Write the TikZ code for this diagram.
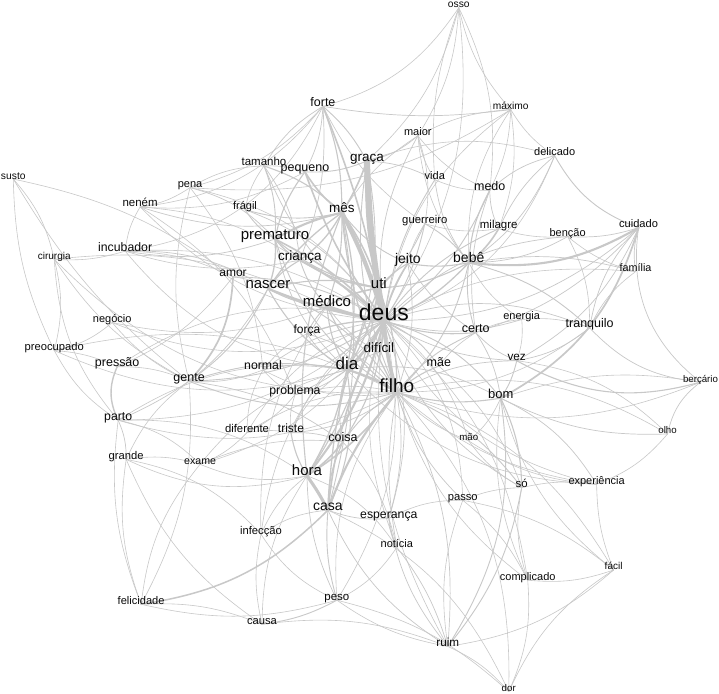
\documentclass[tikz,border=0pt]{standalone}
\usepackage{fontspec}
\setmainfont{Liberation Sans}
\definecolor{edgec}{RGB}{200,200,200}
\definecolor{txt}{RGB}{10,10,10}
\pgfdeclarelayer{back}
\pgfdeclarelayer{edges}
\pgfsetlayers{back,edges,main}
\begin{document}
\begin{tikzpicture}[x=1pt,y=-1pt,
  wn/.style={font=\fontsize{#1}{#1}\selectfont,text=txt,inner sep=1pt},
  wn/.default=11,
  lnk/.style={draw=edgec,line width={#1+0.1pt},line cap=round}]
\begin{pgfonlayer}{back}
\useasboundingbox[fill=white] (0,0) rectangle (719,694);
\end{pgfonlayer}
% ---------------- nodes -------------
\path
 (384,313) node[wn=23] (deus) {deus}
 (397,386) node[wn=19] (filho) {filho}
 (347,364) node[wn=17] (dia) {dia}
 (307,471) node[wn=15] (hora) {hora}
 (328,507) node[wn=14] (casa) {casa}
 (342,208) node[wn=13.5] (mes) {mês}
 (367,159) node[wn=13.5] (graca) {graça}
 (379,283) node[wn=15] (uti) {uti}
 (327,301) node[wn=15] (medico) {médico}
 (275,236) node[wn=15] (prematuro) {prematuro}
 (268,285) node[wn=15] (nascer) {nascer}
 (300,257) node[wn=13.5] (crianca) {criança}
 (408,260) node[wn=14] (jeito) {jeito}
 (469,258) node[wn=14] (bebe) {bebê}
 (379,348) node[wn=13.5] (dificil) {difícil}
 (307,331) node[wn=12] (forca) {força}
 (323,102) node[wn=12.5] (forte) {forte}
 (305,170) node[wn=12.5] (pequeno) {pequeno}
 (264,162) node[wn=11.5] (tamanho) {tamanho}
 (245,207) node[wn=11] (fragil) {frágil}
 (190,186) node[wn=11] (pena) {pena}
 (140,203) node[wn=11.5] (nenem) {neném}
 (13,176) node[wn=10.3] (susto) {susto}
 (125,247) node[wn=12.3] (incubador) {incubador}
 (54,257) node[wn=10] (cirurgia) {cirurgia}
 (233,274) node[wn=12] (amor) {amor}
 (112,320) node[wn=11] (negocio) {negócio}
 (54,348) node[wn=11.2] (preocupado) {preocupado}
 (117,364) node[wn=12.5] (pressao) {pressão}
 (189,379) node[wn=12.5] (gente) {gente}
 (263,366) node[wn=12.3] (normal) {normal}
 (295,392) node[wn=12.3] (problema) {problema}
 (118,418) node[wn=12.3] (parto) {parto}
 (247,429) node[wn=11.3] (diferente) {diferente}
 (291,429) node[wn=12] (triste) {triste}
 (343,438) node[wn=12.5] (coisa) {coisa}
 (126,457) node[wn=11.2] (grande) {grande}
 (200,462) node[wn=10.6] (exame) {exame}
 (261,532) node[wn=11.2] (infeccao) {infecção}
 (141,601) node[wn=11.1] (felicidade) {felicidade}
 (262,622) node[wn=11.2] (causa) {causa}
 (337,599) node[wn=11.5] (peso) {peso}
 (389,517) node[wn=12.3] (esperanca) {esperança}
 (397,544) node[wn=11] (noticia) {notícia}
 (463,499) node[wn=11.2] (passo) {passo}
 (522,484) node[wn=11.4] (so) {só}
 (597,482) node[wn=11] (experiencia) {experiência}
 (614,567) node[wn=10] (facil) {fácil}
 (528,578) node[wn=11] (complicado) {complicado}
 (448,643) node[wn=11.7] (ruim) {ruim}
 (509,689) node[wn=9.7] (dor) {dor}
 (469,438) node[wn=9.7] (mao) {mão}
 (439,362) node[wn=12.5] (mae) {mãe}
 (476,329) node[wn=12.5] (certo) {certo}
 (522,317) node[wn=11] (energia) {energia}
 (517,358) node[wn=11.8] (vez) {vez}
 (501,394) node[wn=13] (bom) {bom}
 (590,325) node[wn=12.5] (tranquilo) {tranquilo}
 (636,268) node[wn=10.8] (familia) {família}
 (701,380) node[wn=9.7] (bercario) {berçário}
 (668,431) node[wn=9.7] (olho) {olho}
 (639,224) node[wn=11.1] (cuidado) {cuidado}
 (568,234) node[wn=11] (bencao) {benção}
 (499,226) node[wn=11.5] (milagre) {milagre}
 (490,186) node[wn=12.5] (medo) {medo}
 (435,176) node[wn=11] (vida) {vida}
 (425,221) node[wn=11.3] (guerreiro) {guerreiro}
 (418,132) node[wn=11] (maior) {maior}
 (511,106) node[wn=10.2] (maximo) {máximo}
 (555,152) node[wn=11] (delicado) {delicado}
 (459,5) node[wn=10.3] (osso) {osso};
% ---------------- connectors -------------
\begin{pgfonlayer}{edges}
\foreach \a/\b/\bd/\w in {
 deus/graca/4/6, deus/mes/-6/4, deus/uti/0/3.5, deus/medico/5/3, deus/filho/-6/3.5,
 deus/dia/8/2.5, deus/crianca/-8/2, deus/nascer/6/2, deus/prematuro/-10/1.5,
 deus/pequeno/8/1.5, deus/forte/-6/1.5, deus/jeito/10/1.5, deus/bebe/-12/1.2,
 deus/dificil/10/1.5, deus/forca/-10/1.2, deus/hora/12/2, deus/casa/-10/1.5,
 deus/coisa/14/1, deus/certo/-12/1, deus/mae/15/0.8, deus/medo/-15/0.8,
 deus/vida/12/0.8, deus/guerreiro/-10/0.8, deus/maior/18/0.6, deus/milagre/14/0.8,
 deus/amor/-15/0.8, deus/tamanho/15/0.6, deus/fragil/-18/0.6, deus/gente/15/0.8,
 deus/normal/-14/0.6, deus/problema/16/0.6, deus/triste/-16/0.6, deus/bom/18/0.8,
 deus/vez/-14/0.6, deus/tranquilo/20/0.6, deus/energia/-16/0.6, deus/esperanca/18/0.6,
 deus/so/-20/0.6, deus/passo/22/0.5, deus/noticia/-18/0.5, deus/bencao/20/0.6,
 deus/cuidado/-20/0.6, deus/familia/16/0.5, deus/pena/-22/0.5, deus/nenem/20/0.5,
 deus/incubador/-18/0.5, deus/negocio/22/0.5, deus/delicado/-24/0.5, deus/maximo/22/0.5,
 deus/osso/-20/0.5, deus/exame/22/0.5, deus/diferente/-20/0.5, deus/mao/18/0.5,
 deus/experiencia/-24/0.5, deus/complicado/20/0.5, deus/ruim/-18/0.5, deus/peso/22/0.5,
 deus/infeccao/-22/0.5, deus/parto/20/0.5, deus/pressao/-24/0.5,
 filho/dia/-8/2, filho/hora/10/1.5, filho/casa/-10/2, filho/mes/12/1.2,
 filho/uti/-10/1.2, filho/medico/14/1, filho/bom/-12/1, filho/mae/10/1,
 filho/coisa/-12/0.8, filho/certo/14/0.8, filho/bebe/-16/0.8, filho/so/15/0.8,
 filho/passo/-14/0.6, filho/esperanca/12/0.6, filho/noticia/-10/0.6, filho/ruim/16/0.6,
 filho/complicado/-18/0.5, filho/facil/20/0.5, filho/experiencia/-16/0.5, filho/olho/22/0.5,
 filho/bercario/-20/0.5, filho/vez/14/0.6, filho/mao/-12/0.5, filho/gente/18/0.8,
 filho/nascer/-18/0.8, filho/prematuro/20/0.8, filho/problema/-14/0.5, filho/triste/16/0.6,
 filho/diferente/-18/0.5, filho/parto/22/0.5, filho/preocupado/-20/0.5, filho/cirurgia/24/0.5,
 filho/jeito/-14/0.6, filho/graca/16/0.8, filho/forca/-16/0.6, filho/normal/18/0.5,
 filho/peso/-20/0.5, filho/dor/22/0.5, filho/tranquilo/-18/0.5,
 dia/hora/10/1.2, dia/mes/-12/1.2, dia/medico/12/1, dia/uti/-10/1.2, dia/nascer/14/1,
 dia/gente/-14/0.8, dia/casa/16/1, dia/coisa/-14/0.6, dia/problema/12/0.6,
 dia/normal/-12/0.6, dia/forca/14/0.6, dia/triste/-16/0.5, dia/prematuro/18/0.6,
 dia/parto/-20/0.5, dia/incubador/22/0.5, dia/exame/-18/0.5, dia/preocupado/20/0.5,
 dia/experiencia/-22/0.5, dia/bom/18/0.6, dia/graca/-16/0.8, dia/dificil/12/0.6,
 hora/casa/4/3, hora/coisa/-8/1.5, hora/triste/10/1, hora/peso/-12/0.6, hora/mes/14/1,
 hora/uti/-12/1, hora/exame/16/0.5, hora/parto/-18/0.5, hora/grande/20/0.5,
 hora/causa/-16/0.5, hora/noticia/18/0.5,
 casa/peso/-10/0.8, casa/felicidade/18/1.4, casa/ruim/-16/0.6, casa/dor/20/0.5,
 casa/esperanca/-12/0.6, casa/uti/10/1.2, casa/mes/-12/0.8, casa/coisa/12/1,
 casa/infeccao/-14/0.5,
 mes/prematuro/-8/2, mes/pequeno/10/1.5, mes/graca/-6/1.5, mes/uti/8/1.5,
 mes/nascer/-10/1.2, mes/crianca/12/1.2, mes/tamanho/-12/1, mes/fragil/14/0.8,
 mes/forte/-10/1, mes/nenem/16/0.6, mes/jeito/-14/0.8, mes/medico/10/1,
 prematuro/nascer/12/1.2, prematuro/crianca/-10/1, prematuro/pequeno/12/1,
 prematuro/tamanho/-12/0.8, prematuro/incubador/14/0.6, prematuro/pena/-16/0.6,
 prematuro/fragil/12/0.8, prematuro/uti/-14/1,
 uti/medico/-10/1.5, uti/crianca/12/1, uti/nascer/-14/1, uti/jeito/10/1,
 uti/bebe/-12/1, uti/graca/8/1.5, uti/guerreiro/-12/0.8,
 nascer/crianca/12/1, nascer/medico/-12/1, nascer/gente/14/0.8, nascer/incubador/-16/0.6,
 nascer/parto/18/0.6, nascer/amor/-12/0.6,
 graca/forte/-10/0.8, graca/pequeno/12/0.8, graca/maior/-14/0.6, graca/vida/12/0.6,
 graca/osso/-16/0.5, graca/delicado/18/0.5,
 bebe/milagre/-10/1.5, bebe/medo/12/1, bebe/cuidado/-18/2, bebe/jeito/10/1,
 bebe/certo/-12/0.8, bebe/tranquilo/14/0.8, bebe/guerreiro/-12/0.8, bebe/vida/14/0.6,
 bebe/delicado/-16/0.6, bebe/maximo/18/0.5, bebe/bencao/-14/0.6, bebe/familia/12/0.6,
 bebe/energia/-14/0.5, bebe/maior/16/0.5,
 cuidado/bom/22/1.6, cuidado/familia/-12/0.6, cuidado/bencao/10/0.6, cuidado/delicado/20/0.8,
 cuidado/bercario/-30/0.6, cuidado/vez/18/0.6, cuidado/tranquilo/-16/0.6, cuidado/certo/14/0.6,
 bom/vez/-10/0.8, bom/so/12/1, bom/olho/-14/0.6, bom/experiencia/16/0.6,
 bom/facil/-18/0.5, bom/mao/12/0.5, bom/certo/-12/0.6, bom/ruim/20/0.8,
 bom/complicado/-16/0.5, bom/bercario/14/0.5,
 vez/bercario/-22/1, vez/olho/18/0.5, vez/tranquilo/-14/0.6, vez/certo/12/0.6, vez/energia/-12/0.5,
 tranquilo/bercario/-20/0.6, tranquilo/familia/14/0.5,
 medo/maximo/-12/0.5, medo/delicado/14/0.6, medo/milagre/-12/0.6, medo/vida/12/0.5,
 medo/osso/-16/0.5, medo/maior/14/0.5, medo/certo/-14/0.6,
 forte/maximo/-8/0.6, forte/osso/-20/0.5, forte/pequeno/12/0.6, forte/tamanho/-14/0.6,
 forte/pena/16/0.5, forte/guerreiro/-14/0.5, forte/crianca/12/0.6,
 forte/nenem/22/0.5, forte/incubador/28/0.5, maximo/pena/18/0.5,
 maior/vida/-10/0.5, maior/maximo/12/0.5, maior/osso/-14/0.5, maior/guerreiro/14/0.5, maior/mes/-12/0.5,
 tamanho/pequeno/10/0.6, tamanho/fragil/-12/0.5, tamanho/crianca/14/0.6, tamanho/pena/-14/0.5,
 pena/nenem/12/0.5, pena/gente/-14/0.5, pena/normal/16/0.5,
 nenem/incubador/-12/0.5, nenem/crianca/14/0.5, nenem/pequeno/-16/0.5, nenem/problema/18/0.5,
 susto/preocupado/-12/0.5, susto/cirurgia/14/0.5, susto/gente/-10/0.5, susto/amor/12/0.5,
 cirurgia/incubador/-10/0.5, cirurgia/preocupado/14/0.5, cirurgia/gente/-14/0.5,
 cirurgia/medico/16/0.5, cirurgia/parto/-18/0.5,
 incubador/amor/12/0.5, incubador/crianca/-14/0.5,
 negocio/gente/-12/0.5, negocio/preocupado/14/0.5, negocio/medico/-16/0.5,
 preocupado/pressao/10/0.5, preocupado/parto/-14/0.5,
 pressao/parto/-25/1.3, pressao/gente/12/0.5, pressao/amor/-14/0.5,
 gente/amor/-20/1.6, gente/coisa/14/0.6, gente/normal/-12/0.5, gente/felicidade/16/0.5, gente/grande/-14/0.5,
 parto/grande/12/0.6, parto/felicidade/-14/0.5, parto/exame/16/0.5,
 grande/felicidade/-14/0.5, grande/exame/12/0.5, grande/causa/-16/0.5, grande/infeccao/18/0.5,
 exame/diferente/-12/0.5, exame/coisa/14/0.5, exame/felicidade/-16/0.5,
 diferente/triste/10/0.5, diferente/problema/-12/0.5, diferente/normal/14/0.5,
 infeccao/causa/-12/0.5, infeccao/hora/14/0.5, infeccao/peso/-16/0.5, infeccao/medico/18/0.5,
 felicidade/peso/-14/0.5, felicidade/causa/12/0.5,
 causa/peso/-10/0.8, causa/ruim/14/0.5,
 peso/ruim/-12/0.5, peso/dor/14/0.5, peso/noticia/-14/0.5,
 ruim/noticia/-10/0.6, ruim/esperanca/14/0.6, ruim/so/-14/0.8, ruim/dor/12/0.5,
 ruim/facil/-16/0.5, ruim/passo/14/0.5,
 dor/complicado/-14/0.5, dor/facil/16/0.5,
 complicado/passo/-12/0.5, complicado/so/14/0.5, complicado/facil/-12/0.5,
 facil/experiencia/10/0.5, facil/passo/-14/0.5,
 experiencia/so/-10/0.5, experiencia/mao/14/0.5,
 so/passo/-10/0.5, so/mao/12/0.5, so/mae/-14/0.5,
 esperanca/noticia/-12/0.5, esperanca/passo/14/0.5,
 noticia/coisa/-14/0.5,
 energia/certo/-10/0.5, energia/tranquilo/12/0.5,
 certo/mae/-10/0.5, certo/jeito/12/0.6,
 milagre/bencao/-10/0.5, milagre/delicado/12/0.6, milagre/maximo/-14/0.5, milagre/guerreiro/12/0.5,
 bencao/familia/-12/0.5, bencao/tranquilo/14/0.5,
 bercario/olho/-20/0.6, olho/experiencia/14/0.5,
 maximo/delicado/-12/0.5, maximo/osso/14/0.5, osso/vida/-12/0.5,
 jeito/guerreiro/10/0.5, jeito/dificil/-12/0.6,
 dificil/medico/12/0.6, medico/forca/-10/0.8, medico/crianca/12/0.8,
 forca/normal/-12/0.5, problema/normal/10/0.5, problema/triste/-12/0.5, triste/coisa/12/0.6}
 {\draw[lnk=\w pt] (\a.base) to[bend left=\bd] (\b.base);}
\end{pgfonlayer}
\end{tikzpicture}
\end{document}
